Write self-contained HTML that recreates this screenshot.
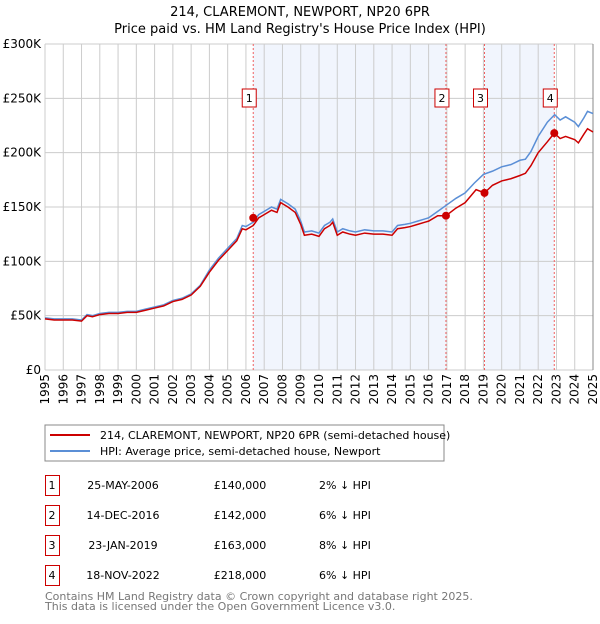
<!DOCTYPE html>
<html><head><meta charset="utf-8"><style>
body{margin:0;background:#fff;font-family:"DejaVu Sans","Liberation Sans",sans-serif;}
svg text{font-family:"DejaVu Sans","Liberation Sans",sans-serif;}
</style></head><body>
<svg id="chart" width="600" height="620" xmlns="http://www.w3.org/2000/svg">
<text x="300" y="16" text-anchor="middle" font-size="13">214, CLAREMONT, NEWPORT, NP20 6PR</text>
<text x="300" y="33" text-anchor="middle" font-size="13">Price paid vs. HM Land Registry's House Price Index (HPI)</text>
<g id="plot"></g>
<rect x="45" y="425" width="399" height="36" fill="#fff" stroke="#888"/>
<line x1="50" y1="435" x2="90" y2="435" stroke="#cc0000" stroke-width="2"/>
<text x="100" y="439" font-size="11">214, CLAREMONT, NEWPORT, NP20 6PR (semi-detached house)</text>
<line x1="50" y1="451" x2="90" y2="451" stroke="#5b8fd6" stroke-width="2"/>
<text x="100" y="455" font-size="11">HPI: Average price, semi-detached house, Newport</text>
<g id="table" font-size="11"></g>
<text x="45" y="600" font-size="11" fill="#777">Contains HM Land Registry data © Crown copyright and database right 2025.</text>
<text x="45" y="610" font-size="11" fill="#777">This data is licensed under the Open Government Licence v3.0.</text>
</svg>
<script>
const hpiYears=[1995,1995.5,1996,1996.5,1997,1997.3,1997.6,1998,1998.5,1999,1999.5,2000,2000.5,2001,2001.5,2002,2002.5,2003,2003.5,2004,2004.5,2005,2005.5,2005.8,2006,2006.4,2006.7,2007,2007.4,2007.7,2007.9,2008.3,2008.7,2009,2009.2,2009.6,2010,2010.3,2010.6,2010.75,2011,2011.3,2011.7,2012,2012.5,2013,2013.5,2014,2014.3,2014.7,2015,2015.4,2015.8,2016,2016.5,2017,2017.5,2018,2018.5,2019,2019.5,2020,2020.5,2021,2021.3,2021.6,2022,2022.5,2022.9,2023.2,2023.5,2024,2024.2,2024.5,2024.7,2025];
const hpiValues=[48,47,47,47,46,51,50,52,53,53,54,54,56,58,60,64,66,70,78,92,103,112,121,133,132,136,143,146,150,148,157,153,148,137,127,128,126,133,136,139,127,130,128,127,129,128,128,127,133,134,135,137,139,140,146,152,158,163,172,180,183,187,189,193,194,201,215,228,235,230,233,228,224,232,238,236];
const priceYears=[1995,1995.5,1996,1996.5,1997,1997.3,1997.6,1998,1998.5,1999,1999.5,2000,2000.5,2001,2001.5,2002,2002.5,2003,2003.5,2004,2004.5,2005,2005.5,2005.8,2006,2006.4,2006.7,2007,2007.4,2007.7,2007.9,2008.3,2008.7,2009,2009.2,2009.6,2010,2010.3,2010.6,2010.75,2011,2011.3,2011.7,2012,2012.5,2013,2013.5,2014,2014.3,2014.7,2015,2015.4,2015.8,2016,2016.5,2016.95,2017.5,2018,2018.6,2019.06,2019.5,2020,2020.5,2021,2021.3,2021.6,2022,2022.5,2022.88,2023.2,2023.5,2024,2024.2,2024.5,2024.7,2025];
const priceValues=[47,46,46,46,45,50,49,51,52,52,53,53,55,57,59,63,65,69,77,90,101,110,119,130,129,133,140,143,147,145,154,150,145,134,124,125,123,130,133,136,124,127,125,124,126,125,125,124,130,131,132,134,136,137,142,142,149,154,166,163,170,174,176,179,181,188,200,210,218,213,215,212,209,217,222,219];
const saleYears=[2006.4,2016.95,2019.06,2022.88];
const saleValues=[140,142,163,218];
const saleLabels=["1","2","3","4"];
const saleDates=["25-MAY-2006","14-DEC-2016","23-JAN-2019","18-NOV-2022"];
const salePrices=["£140,000","£142,000","£163,000","£218,000"];
const saleDiffs=["2% ↓ HPI","6% ↓ HPI","8% ↓ HPI","6% ↓ HPI"];
const yTicks=[0,50,100,150,200,250,300];
const yTickLabels=["£0","£50K","£100K","£150K","£200K","£250K","£300K"];
const xTicks=[1995,1996,1997,1998,1999,2000,2001,2002,2003,2004,2005,2006,2007,2008,2009,2010,2011,2012,2013,2014,2015,2016,2017,2018,2019,2020,2021,2022,2023,2024,2025];

const X0=45,X1=593,Y0=370,Y1=44;
const sx=y=>X0+(y-1995)/30*(X1-X0);
const sy=v=>Y0-v/300*(Y0-Y1);
const NS="http://www.w3.org/2000/svg";
const plot=document.getElementById('plot');
function mk(tag,attrs,parent){const e=document.createElementNS(NS,tag);for(const k in attrs)e.setAttribute(k,attrs[k]);(parent||plot).appendChild(e);return e;}
// shading between sale 1-2 and 3-4
for(let i=0;i<saleYears.length;i+=2){
 const r=mk('rect',{x:sx(saleYears[i]),y:Y1,width:sx(saleYears[i+1])-sx(saleYears[i]),height:Y0-Y1,fill:'#eef3fc',opacity:0.8});
 
 
}
yTicks.forEach((t,i)=>{
 const l=mk('line',{x1:X0,x2:X1,y1:sy(t),y2:sy(t),stroke:'#cccccc'});
 
 
 const tx=mk('text',{x:X0-4,y:sy(t)+4,'text-anchor':'end','font-size':'12'});
 tx.textContent=yTickLabels[i];
 
 
});
xTicks.forEach(t=>{
 const l=mk('line',{x1:sx(t),x2:sx(t),y1:Y1,y2:Y0,stroke:'#cccccc'});
 
 
 const tx=mk('text',{transform:`translate(${sx(t)+4},${Y0+4}) rotate(-90)`,'text-anchor':'end','font-size':'12'});
 tx.textContent=t;
 
 
});
const edge=mk('line',{x1:X1,x2:X1,y1:Y1,y2:Y0,stroke:'#888'});


saleYears.forEach((y,i)=>{
 const l=mk('line',{x1:sx(y),x2:sx(y),y1:Y1,y2:Y0,stroke:'#f06060','stroke-dasharray':'2,2'});
 
 
});
const hp=mk('polyline',{points:hpiYears.map((y,i)=>sx(y)+','+sy(hpiValues[i])).join(' '),fill:'none',stroke:'#5b8fd6','stroke-width':1.5});


const pp=mk('polyline',{points:priceYears.map((y,i)=>sx(y)+','+sy(priceValues[i])).join(' '),fill:'none',stroke:'#cc0000','stroke-width':1.5});


saleYears.forEach((y,i)=>{
 const c=mk('circle',{cx:sx(y),cy:sy(saleValues[i]),r:4,fill:'#cc0000'});
 
 
 const b=mk('rect',{x:sx(y)-11,y:89,width:14,height:18,fill:'#fff',stroke:'#cc0000'});
 
 
 const t=mk('text',{x:sx(y)-4,y:102,'text-anchor':'middle','font-size':'11'});
 t.textContent=saleLabels[i];
 
 
});
const tb=document.getElementById('table');
saleLabels.forEach((s,i)=>{
 const y=475+i*30;
 const b=mk('rect',{x:45.5,y:y+0.5,width:14,height:20,fill:'#fff',stroke:'#cc0000'},tb);
 
 
 const cells=[[52,'middle',s,'table-row-number'],[123,'middle',saleDates[i],'table-row-date'],[240,'middle',salePrices[i],'table-row-price'],[319,'start',saleDiffs[i],'table-row-hpi-diff']];
 cells.forEach(c=>{
  const t=mk('text',{x:c[0],y:y+14,'text-anchor':c[1]},tb);
  t.textContent=c[2];
  
  
 });
});
</script>
</body></html>
